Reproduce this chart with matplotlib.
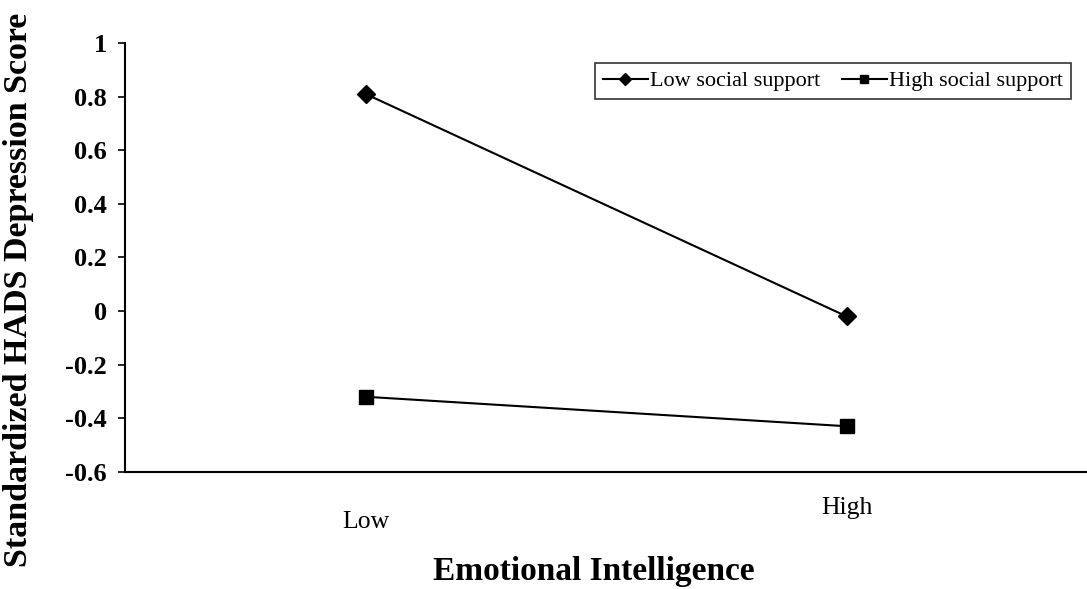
import matplotlib
matplotlib.use("Agg")
import matplotlib.pyplot as plt
import matplotlib.transforms as mtransforms

categories = ["Low", "High"]
low_support = [0.81, -0.02]
high_support = [-0.32, -0.43]
series_labels = ["Low social support", "High social support"]
yticks = [-0.6, -0.4, -0.2, 0, 0.2, 0.4, 0.6, 0.8, 1]
ytick_labels = ["-0.6", "-0.4", "-0.2", "0", "0.2", "0.4", "0.6", "0.8", "1"]

plt.rcParams['font.family'] = ['Liberation Serif', 'DejaVu Serif']

fig = plt.figure(figsize=(10.87, 5.89), dpi=100)
ax = fig.add_axes([0.115, 0.199, 0.885, 0.728])

xpos = [0.5, 1.5]
ax.plot(xpos, low_support, color='black', lw=1.5, marker='D', ms=9.5,
        label=series_labels[0])
ax.plot(xpos, high_support, color='black', lw=1.5, marker='s', ms=10.5,
        label=series_labels[1])

ax.set_xlim(0, 2)
ax.set_ylim(-0.6, 1)
ax.set_yticks(yticks)
ax.set_yticklabels(ytick_labels, fontsize=19, fontweight='bold')
ax.set_xticks(xpos)
ax.set_xticklabels(categories, fontsize=18.5)
ax.tick_params(axis='x', length=0, pad=28)
ax.tick_params(axis='y', length=5, width=1.2, direction='out', pad=8)

# the "High" label sits a little higher than "Low" in the reference
hl = ax.get_xticklabels()[1]
hl.set_transform(hl.get_transform() +
                 mtransforms.ScaledTranslation(0, 14 / 100, fig.dpi_scale_trans))

for s in ['top', 'right']:
    ax.spines[s].set_visible(False)
for s in ['left', 'bottom']:
    ax.spines[s].set_linewidth(1.5)

ax.set_ylabel("Standardized HADS Depression Score", fontsize=24.5,
              fontweight='bold')
ax.set_xlabel("Emotional Intelligence", fontsize=24, fontweight='bold')
ax.yaxis.set_label_coords(-0.095, 0.424)
ax.xaxis.set_label_coords(0.487, -0.233)
ax.xaxis.label.set_verticalalignment('center')

leg = ax.legend(loc='upper right', bbox_to_anchor=(0.983, 0.953), ncol=2,
                fontsize=16, frameon=True, fancybox=False, edgecolor='black',
                markerscale=0.6, handlelength=2.0, handletextpad=0.1,
                columnspacing=1.0, borderpad=0.35, borderaxespad=0)
leg.get_frame().set_linewidth(1.2)

fig.savefig("out.png", dpi=100)
